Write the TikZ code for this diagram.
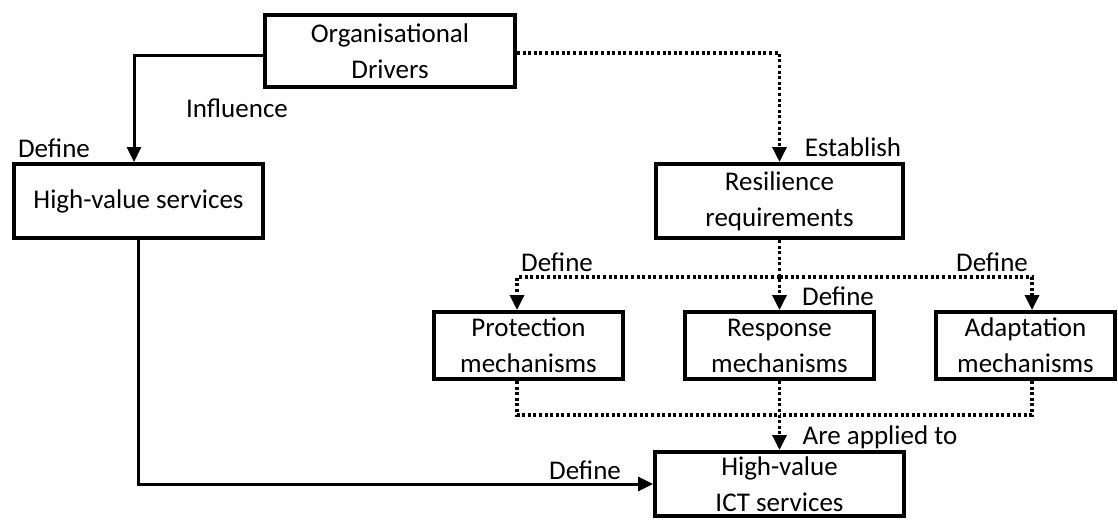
\documentclass[tikz,border=0pt]{standalone}
\usepackage{fontspec}
\setmainfont{Carlito}
\usetikzlibrary{arrows.meta}
\begin{document}
\begin{tikzpicture}[x=1pt,y=-1pt,
  every node/.style={font=\fontsize{27}{36}\selectfont, inner sep=0pt},
  box/.style={draw, line width=4pt, align=center},
  lbl/.style={},
  solidarrow/.style={line width=3pt, -{Triangle[width=14pt,length=15pt]}},
  dotline/.style={line width=3.4pt, dash pattern=on 3pt off 2.6pt},
  dotarrow/.style={dotline, -{Triangle[width=14pt,length=15pt]}}]
\useasboundingbox (0,0) rectangle (1118,519);

% boxes
\node[box, minimum width=250pt, minimum height=72pt] (org)  at (390,51)      {Organisational\\Drivers};
\node[box, minimum width=249pt, minimum height=74pt] (hvs)  at (138.5,201)   {High-value services};
\node[box, minimum width=247pt, minimum height=74pt] (res)  at (779.5,201)   {Resilience\\requirements};
\node[box, minimum width=189pt, minimum height=67pt] (prot) at (528.5,345.5) {Protection\\mechanisms};
\node[box, minimum width=189pt, minimum height=67pt] (resp) at (779.5,345.5) {Response\\mechanisms};
\node[box, minimum width=179pt, minimum height=67pt] (adap) at (1025.5,345.5) {Adaptation\\mechanisms};
\node[box, minimum width=249pt, minimum height=64pt] (ict)  at (779.5,484)   {High-value\\ICT services};

% junction points of the dotted branches
\coordinate (split) at (779.5,277);
\coordinate (merge) at (779.5,415);

% connectors
\draw[solidarrow] ([yshift=-5pt]org.west) -| ([xshift=-4.5pt]hvs.north);
\draw[dotarrow] ([yshift=-2pt]org.east) -| (res.north);
\draw[dotarrow] (res.south) -- (resp.north);
\draw[dotarrow] (split) -| ([xshift=-11.5pt]prot.north);
\draw[dotarrow] (split) -| ([xshift=6.5pt]adap.north);
\draw[dotline] ([xshift=-11.5pt]prot.south) |- (merge);
\draw[dotline] ([xshift=6.5pt]adap.south) |- (merge);
\draw[dotarrow] (resp.south) -- (ict.north);
\draw[solidarrow] (hvs.south) |- (ict.west);

% labels
\node[lbl] (l1) at (237,108) {Influence};
\node[lbl] (l2) at (54,148)  {Define};
\node[lbl] (l3) at (853,147) {Establish};
\node[lbl] (l4) at (557,262) {Define};
\node[lbl] (l5) at (992,262) {Define};
\node[lbl] (l6) at (838,296) {Define};
\node[lbl] (l7) at (880,437) {Are applied to};
\node[lbl] (l8) at (585,470) {Define};
\end{tikzpicture}
\end{document}
